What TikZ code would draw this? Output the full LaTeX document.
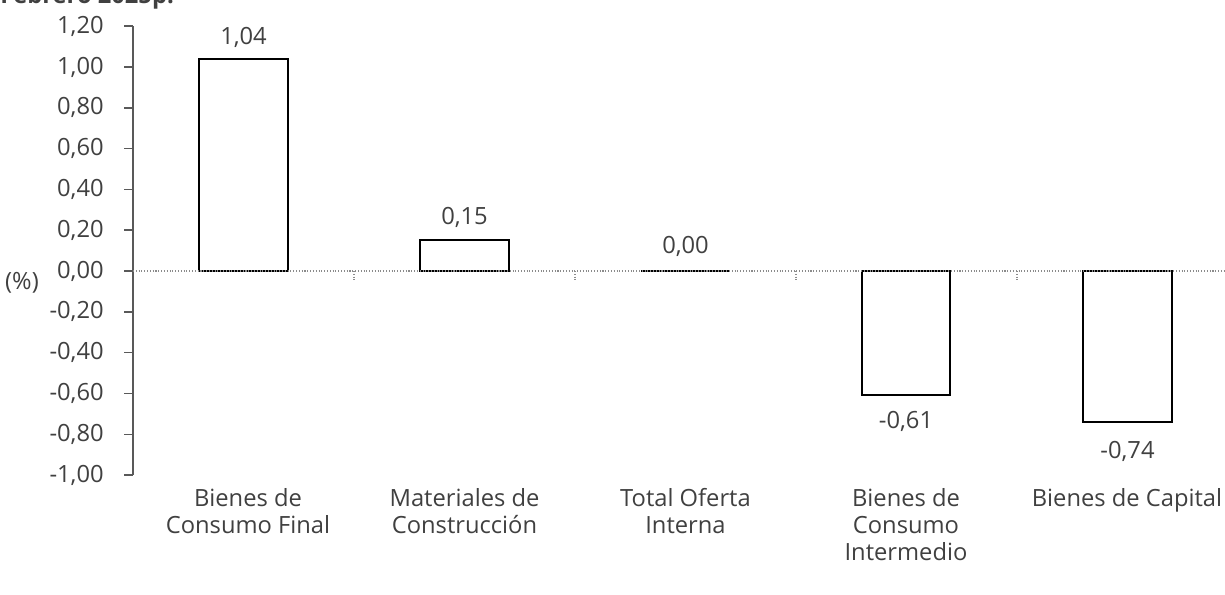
\documentclass[tikz,border=0pt]{standalone}
\usepackage{fontspec}
\setmainfont{Open Sans}
\usepackage{tikz}
\usetikzlibrary{positioning,calc}
\definecolor{txtgray}{HTML}{404040}
\definecolor{axgray}{HTML}{595959}

\begin{document}
\begin{tikzpicture}[x=0.02cm,y=-0.02cm,
    every node/.style={font=\fontsize{13.5}{15.5}\selectfont, text=txtgray, inner sep=0pt},
    bar/.style={draw=black, line width=1.2pt, fill=white},
    valuelbl/.style={anchor=base},
    catlbl/.style={anchor=north, align=center},
    zeroline/.style={draw=axgray!70, densely dotted, line width=0.6pt}]

    \useasboundingbox (0,0) rectangle (1225,595);

    % title (cut at the top)
    \node[anchor=base west, font=\fontsize{13.5}{15.5}\selectfont\bfseries] (title) at (0,4) {Febrero 2025p.};

    % axis
    \coordinate (ytop) at (133,26.2);
    \coordinate (ybot) at (133,475);
    \draw[axgray, line width=0.8pt] (ytop) -- (ybot);
    \foreach \v/\t in {1.2/{1,20},1.0/{1,00},0.8/{0,80},0.6/{0,60},0.4/{0,40},0.2/{0,20},0/{0,00},
                       -0.2/{-0,20},-0.4/{-0,40},-0.6/{-0,60},-0.8/{-0,80},-1.0/{-1,00}}{
      \draw[axgray, line width=0.8pt] (124,{271-204*\v}) -- (133,{271-204*\v});
      \node[anchor=east] at (104,{271-204*\v}) {\t};
    }
    \node (pct) at (22,283) {(\%)};

    % bars
    \draw[bar] (199,271) rectangle (288,{271-204*1.04});
    \draw[bar] (420,271) rectangle (509,{271-204*0.15});
    \draw[bar] (641,271) -- (730,271);
    \draw[bar] (862,271) rectangle (950,{271+204*0.61});
    \draw[bar] (1083,271) rectangle (1172,{271+204*0.74});

    % zero line
    \coordinate (zl) at (133,271);
    \coordinate (zr) at (1225,271);
    \draw[zeroline] (zl) -- (zr);
    \foreach \x in {354,575,796,1017}
      \draw[zeroline] (\x,271) -- (\x,280);

    % values
    \node[valuelbl] (v1) at (243.5,44) {1,04};
    \node[valuelbl] (v2) at (464.5,224) {0,15};
    \node[valuelbl] (v3) at (685.5,253) {0,00};
    \node[valuelbl] (v4) at (906,428) {-0,61};
    \node[valuelbl] (v5) at (1127.5,458) {-0,74};

    % categories
    \node[catlbl] (c1) at (248,488) {Bienes de\\Consumo Final};
    \node[catlbl] (c2) at (464.5,488) {Materiales de\\Construcción};
    \node[catlbl] (c3) at (685.5,488) {Total Oferta\\Interna};
    \node[catlbl] (c4) at (906,488) {Bienes de\\Consumo\\Intermedio};
    \node[catlbl] (c5) at (1127,488) {Bienes de Capital};
\end{tikzpicture}
\end{document}
